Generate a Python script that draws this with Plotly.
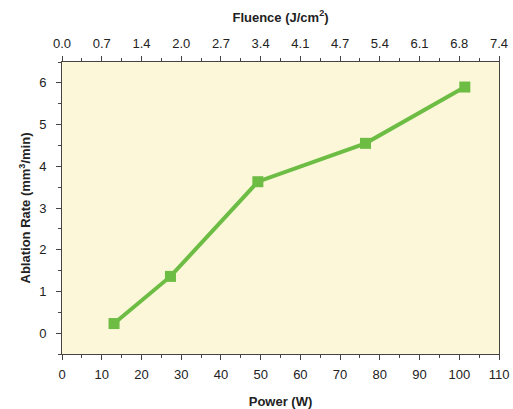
import plotly.graph_objects as go

power = [13.1, 27.3, 49.3, 76.4, 101.4]
ablation_rate = [0.23, 1.36, 3.63, 4.55, 5.90]

power_ticks = [0, 10, 20, 30, 40, 50, 60, 70, 80, 90, 100, 110]
fluence_labels = ["0.0", "0.7", "1.4", "2.0", "2.7", "3.4", "4.1", "4.7", "5.4", "6.1", "6.8", "7.4"]
y_ticks = [0, 1, 2, 3, 4, 5, 6]

FONT = "Liberation Sans, Arial, sans-serif"
green = "#6dbd45"
axis_col = "#444444"

fig = go.Figure()
fig.add_trace(go.Scatter(
    x=power, y=ablation_rate, mode="lines+markers",
    line=dict(color=green, width=4),
    marker=dict(symbol="square", size=11, color=green),
    showlegend=False, hoverinfo="x+y",
))
# invisible trace to anchor the top axis
fig.add_trace(go.Scatter(x=[power_ticks[0], power_ticks[-1]], y=[0, 0], xaxis="x2",
                         mode="markers", marker=dict(opacity=0), showlegend=False,
                         hoverinfo="skip"))

common = dict(showgrid=False, zeroline=False, showline=True, linecolor=axis_col, linewidth=1,
              ticks="outside", ticklen=5, tickwidth=1, tickcolor=axis_col, automargin=False,
              tickfont=dict(family=FONT, size=13, color="#222"))

fig.update_layout(
    width=513, height=409,
    margin=dict(l=62, r=14, t=62, b=55),
    paper_bgcolor="white", plot_bgcolor="#fbf7d8",
    font=dict(family=FONT, size=13, color="#222"),
    xaxis=dict(range=[0, 110], tickvals=power_ticks, ticktext=[str(v) for v in power_ticks],
               minor=dict(dtick=5, ticks="outside", ticklen=3, tickcolor=axis_col),
               ticklabelstandoff=3,
               title=dict(text="<b>Power (W)</b>", font=dict(family=FONT, size=13), standoff=17),
               **common),
    xaxis2=dict(range=[0, 110], overlaying="x", side="top", anchor="y",
                tickvals=power_ticks, ticktext=fluence_labels,
                minor=dict(dtick=5, ticks="outside", ticklen=3, tickcolor=axis_col),
                ticklabelstandoff=3,
                title=dict(text="<b>Fluence (J/cm<sup>2</sup>)</b>", font=dict(family=FONT, size=13), standoff=10),
                **common),
    yaxis=dict(range=[-0.5, 6.5], tickvals=y_ticks, mirror=True,
               minor=dict(dtick=0.5, ticks="outside", ticklen=3, tickcolor=axis_col),
               ticklabelstandoff=7,
               title=dict(text="<b>Ablation Rate (mm<sup>3</sup>/min)</b>", font=dict(family=FONT, size=13), standoff=5),
               **common),
)

fig.write_html("out.html", config={"displayModeBar": False},
               post_script="document.body.style.margin='0';document.body.style.padding='0';")
